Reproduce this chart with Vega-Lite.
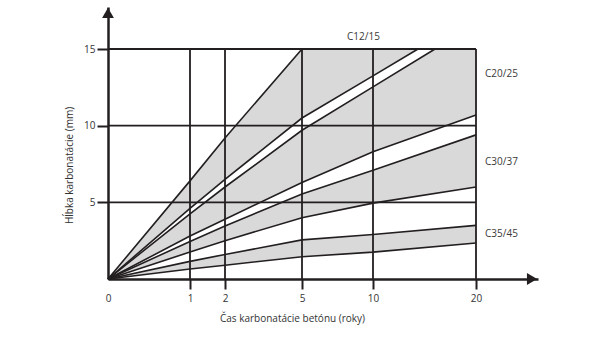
{
  "$schema": "https://vega.github.io/schema/vega-lite/v6.json",
  "width": 430,
  "height": 272,
  "autosize": {"type": "none"},
  "padding": {"left": 108, "top": 7, "right": 62, "bottom": 59},
  "background": "white",
  "config": {"view": {"stroke": null}, "font": "Open Sans"},
  "datasets": {
    "lines": [
      {"line": "A", "t": 0, "v": 0}, {"line": "A", "t": 1, "v": 6.4}, {"line": "A", "t": 2, "v": 9.2}, {"line": "A", "t": 5, "v": 15},
      {"line": "B", "t": 0, "v": 0}, {"line": "B", "t": 1, "v": 4.6}, {"line": "B", "t": 2, "v": 6.5}, {"line": "B", "t": 5, "v": 10.5}, {"line": "B", "t": 10, "v": 13.25}, {"line": "B", "t": 14.37, "v": 15},
      {"line": "C", "t": 0, "v": 0}, {"line": "C", "t": 1, "v": 4.25}, {"line": "C", "t": 2, "v": 6.0}, {"line": "C", "t": 5, "v": 9.7}, {"line": "C", "t": 10, "v": 12.53}, {"line": "C", "t": 16.02, "v": 15},
      {"line": "D", "t": 0, "v": 0}, {"line": "D", "t": 1, "v": 2.8}, {"line": "D", "t": 2, "v": 3.9}, {"line": "D", "t": 5, "v": 6.3}, {"line": "D", "t": 10, "v": 8.3}, {"line": "D", "t": 20, "v": 10.7},
      {"line": "E", "t": 0, "v": 0}, {"line": "E", "t": 1, "v": 2.45}, {"line": "E", "t": 2, "v": 3.45}, {"line": "E", "t": 5, "v": 5.55}, {"line": "E", "t": 10, "v": 7.1}, {"line": "E", "t": 20, "v": 9.4},
      {"line": "F", "t": 0, "v": 0}, {"line": "F", "t": 1, "v": 1.76}, {"line": "F", "t": 2, "v": 2.5}, {"line": "F", "t": 5, "v": 4.0}, {"line": "F", "t": 10, "v": 4.95}, {"line": "F", "t": 20, "v": 6.0},
      {"line": "G", "t": 0, "v": 0}, {"line": "G", "t": 1, "v": 1.15}, {"line": "G", "t": 2, "v": 1.6}, {"line": "G", "t": 5, "v": 2.55}, {"line": "G", "t": 10, "v": 2.9}, {"line": "G", "t": 20, "v": 3.5},
      {"line": "H", "t": 0, "v": 0}, {"line": "H", "t": 1, "v": 0.65}, {"line": "H", "t": 2, "v": 0.9}, {"line": "H", "t": 5, "v": 1.45}, {"line": "H", "t": 10, "v": 1.75}, {"line": "H", "t": 20, "v": 2.35}
    ],
    "bands": [
      {"band": "C12/15", "t": 0, "v": 0, "v2": 0}, {"band": "C12/15", "t": 1, "v": 6.4, "v2": 4.6}, {"band": "C12/15", "t": 2, "v": 9.2, "v2": 6.5}, {"band": "C12/15", "t": 5, "v": 15, "v2": 10.5}, {"band": "C12/15", "t": 10, "v": 15, "v2": 13.25}, {"band": "C12/15", "t": 14.37, "v": 15, "v2": 15},
      {"band": "C20/25", "t": 0, "v": 0, "v2": 0}, {"band": "C20/25", "t": 1, "v": 4.25, "v2": 2.8}, {"band": "C20/25", "t": 2, "v": 6.0, "v2": 3.9}, {"band": "C20/25", "t": 5, "v": 9.7, "v2": 6.3}, {"band": "C20/25", "t": 10, "v": 12.53, "v2": 8.3}, {"band": "C20/25", "t": 16.02, "v": 15, "v2": 9.74}, {"band": "C20/25", "t": 20, "v": 15, "v2": 10.7},
      {"band": "C30/37", "t": 0, "v": 0, "v2": 0}, {"band": "C30/37", "t": 1, "v": 2.45, "v2": 1.76}, {"band": "C30/37", "t": 2, "v": 3.45, "v2": 2.5}, {"band": "C30/37", "t": 5, "v": 5.55, "v2": 4.0}, {"band": "C30/37", "t": 10, "v": 7.1, "v2": 4.95}, {"band": "C30/37", "t": 20, "v": 9.4, "v2": 6.0},
      {"band": "C35/45", "t": 0, "v": 0, "v2": 0}, {"band": "C35/45", "t": 1, "v": 1.15, "v2": 0.65}, {"band": "C35/45", "t": 2, "v": 1.6, "v2": 0.9}, {"band": "C35/45", "t": 5, "v": 2.55, "v2": 1.45}, {"band": "C35/45", "t": 10, "v": 2.9, "v2": 1.75}, {"band": "C35/45", "t": 20, "v": 3.5, "v2": 2.35}
    ],
    "grid": [
      {"t": 1, "t2": 1, "v": 0, "v2": 15}, {"t": 2, "t2": 2, "v": 0, "v2": 15}, {"t": 5, "t2": 5, "v": 0, "v2": 15}, {"t": 10, "t2": 10, "v": 0, "v2": 15}, {"t": 20, "t2": 20, "v": 0, "v2": 15},
      {"t": 0, "t2": 20, "v": 5, "v2": 5}, {"t": 0, "t2": 20, "v": 10, "v2": 10}, {"t": 0, "t2": 20, "v": 15, "v2": 15}
    ],
    "labels": [
      {"label": "C12/15", "t": 8.17, "v": 15.59},
      {"label": "C20/25", "t": 20.73, "v": 13.18},
      {"label": "C30/37", "t": 20.73, "v": 7.43},
      {"label": "C35/45", "t": 20.73, "v": 2.74}
    ],
    "arrowUp": [{"t": 0, "v": 17.35}],
    "arrowRight": [{"t": 24.52, "v": 0}]
  },
  "encoding": {
    "x": {
      "field": "t", "type": "quantitative",
      "scale": {"type": "linear", "domain": [0, 1, 2, 5, 10, 20, 25], "range": [0, 82, 117, 194, 265, 368, 430], "nice": false, "zero": false},
      "axis": {
        "values": [0, 1, 2, 5, 10, 20],
        "title": "Čas karbonatácie betónu (roky)",
        "grid": false,
        "domainWidth": 2.5, "domainColor": "#231f20",
        "tickSize": 10, "tickWidth": 2, "tickColor": "#231f20",
        "tickOpacity": {"condition": {"test": "datum.value === 0", "value": 0}, "value": 1},
        "labelPadding": 4, "labelFontSize": 10, "labelColor": "#333333", "labelFont": "Open Sans", "labelFlush": false,
        "titleFont": "Open Sans", "titleFontSize": 10, "titleFontWeight": "normal", "titleColor": "#333333",
        "titleX": 184, "titleY": 42, "titleBaseline": "alphabetic", "titleAlign": "center"
      }
    },
    "y": {
      "field": "v", "type": "quantitative",
      "scale": {"domain": [0, 17.74], "nice": false, "zero": false},
      "axis": {
        "values": [5, 10, 15],
        "title": "Hĺbka karbonatácie (mm)",
        "grid": false,
        "domainWidth": 2.5, "domainColor": "#231f20",
        "tickSize": 11, "tickWidth": 2, "tickColor": "#231f20",
        "labelPadding": 2, "labelFontSize": 10, "labelColor": "#333333", "labelFont": "Open Sans",
        "titleFont": "Open Sans", "titleFontSize": 10, "titleFontWeight": "normal", "titleColor": "#333333",
        "titleX": -36, "titleY": 158, "titleAngle": -90, "titleBaseline": "alphabetic", "titleAlign": "center"
      }
    }
  },
  "layer": [
    {
      "data": {"name": "bands"},
      "mark": {"type": "area", "fill": "#d9d9d9", "stroke": null, "opacity": 1},
      "encoding": {
        "y": {"field": "v", "type": "quantitative", "stack": null},
        "y2": {"field": "v2"},
        "detail": {"field": "band"}
      }
    },
    {
      "data": {"name": "grid"},
      "mark": {"type": "rule", "color": "#231f20", "strokeWidth": 1.8},
      "encoding": {"x2": {"field": "t2"}, "y2": {"field": "v2"}}
    },
    {
      "data": {"name": "lines"},
      "mark": {"type": "line", "color": "#231f20", "strokeWidth": 1.6},
      "encoding": {"detail": {"field": "line"}}
    },
    {
      "data": {"name": "labels"},
      "mark": {"type": "text", "align": "left", "baseline": "alphabetic", "font": "Open Sans", "fontSize": 10, "color": "#3a3a3a"},
      "encoding": {"text": {"field": "label"}}
    },
    {
      "data": {"name": "arrowUp"},
      "mark": {"type": "point", "shape": "triangle-up", "filled": true, "size": 140, "color": "#231f20", "opacity": 1, "strokeWidth": 0}
    },
    {
      "data": {"name": "arrowRight"},
      "mark": {"type": "point", "shape": "triangle-right", "filled": true, "size": 140, "color": "#231f20", "opacity": 1, "strokeWidth": 0}
    }
  ]
}
